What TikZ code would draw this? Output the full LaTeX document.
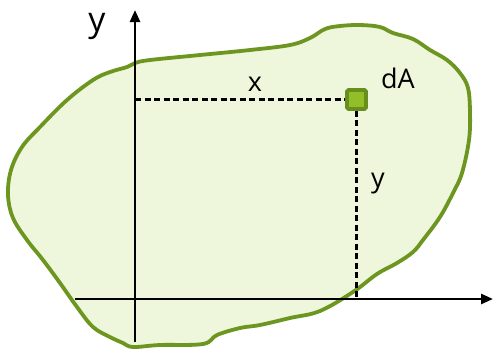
\documentclass[tikz,border=0pt]{standalone}
\usepackage{fontspec}
\setmainfont{Open Sans}
\usetikzlibrary{arrows.meta}
\definecolor{blobfill}{RGB}{238,246,220}
\definecolor{blobline}{RGB}{108,150,32}
\definecolor{sqfill}{RGB}{146,190,40}
\definecolor{sqline}{RGB}{104,142,30}
\tikzset{
  axis/.style={line width=2.6pt,-{Triangle[length=12pt,width=10pt]}},
  guide/.style={line width=2.4pt,dash pattern=on 6pt off 3.5pt},
  lbl/.style={font=\fontsize{27}{29}\selectfont,inner sep=0pt}
}
\begin{document}
\begin{tikzpicture}[x=1pt,y=-1pt]
\useasboundingbox (0,0) rectangle (493,349);
\draw[blobline,fill=blobfill,line width=3.8pt,line join=round] plot[smooth cycle,tension=0.6] coordinates {
(135,63) (150,60) (200,55) (250,50) (290,45) (310,38) (325,29) (340,26) (360,25) (380,27) (393,33) (413,39) (430,50) (447,60) (460,73) (468,88) (470,112) (469,140) (462,173) (453,193) (440,217) (423,240) (413,252) (397,263) (377,274) (353,292) (320,311) (290,318) (260,325) (240,328) (217,335) (203,344) (160,345) (133,347) (123,343) (110,337) (93,327) (77,307) (60,283) (43,260) (27,240) (13,218) (8,195) (11,170) (22,147) (40,127) (67,100) (93,80) (110,72) (127,67)};
\node[lbl] (ylab) at (97,26) {\fontsize{34}{36}\selectfont y};
\coordinate (o) at (135,299);
\coordinate (ybot) at (135,342);
\coordinate (ytop) at (135,10);
\coordinate (xleft) at (75,299);
\coordinate (xright) at (493,299);
\draw[axis] (ybot) -- (ytop);
\draw[axis] (xleft) -- (xright);
\node[draw=sqline,fill=sqfill,line width=3.6pt,rounded corners=1.5pt,minimum size=19pt,inner sep=0pt] (dA) at (356.5,99.5) {};
\coordinate (yx) at (135,99.5);
\coordinate (xx) at (356.5,299);
\draw[guide] (yx) -- (dA.west);
\draw[guide] (dA.south) -- (xx);
\node[lbl] (xl) at (255,84) {x};
\node[lbl] (dal) at (398,78) {dA};
\node[lbl] (yl) at (378,184) {y};
\end{tikzpicture}
\end{document}
